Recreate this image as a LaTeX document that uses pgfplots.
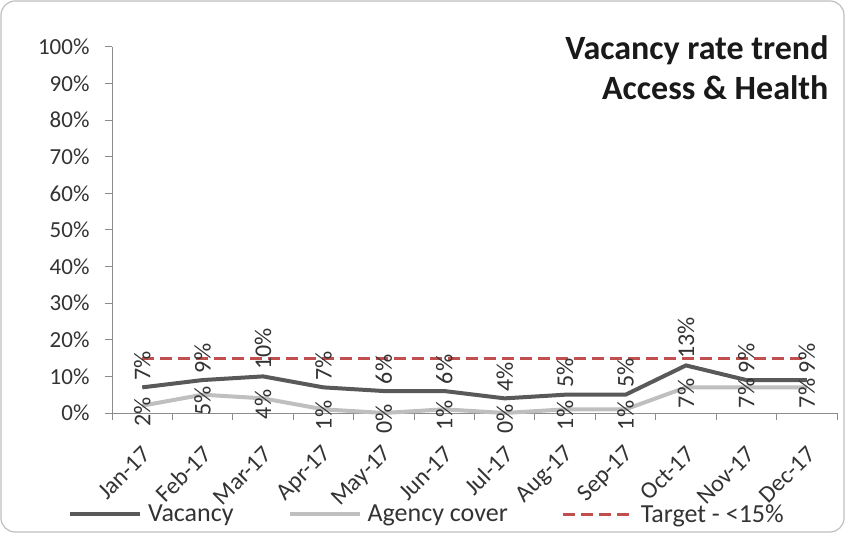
\documentclass[border=0pt]{standalone}
\usepackage{pgfplots}
\pgfplotsset{compat=1.18}
\usepackage{fontspec}
\setmainfont{Carlito}
\definecolor{vac}{HTML}{595959}
\definecolor{agc}{HTML}{BFBFBF}
\definecolor{tgt}{HTML}{C0504D}
\definecolor{axc}{HTML}{8C8C8C}
\definecolor{txt}{HTML}{333333}
\begin{document}
\begin{tikzpicture}
\useasboundingbox (0,0) rectangle (845bp,533bp);
\draw[color=black!25, line width=1.2bp, rounded corners=14bp] (1bp,1bp) rectangle (844bp,532bp);
\begin{axis}[
  at={(112bp,120bp)}, anchor=south west,
  scale only axis, width=725bp, height=366bp,
  xmin=-0.5, xmax=11.5, ymin=0, ymax=100,
  axis lines*=left,
  axis line style={axc, line width=1bp},
  tick style={axc, line width=1bp},
  tick align=outside,
  xtick={0,...,11},
  xticklabels={Jan-17,Feb-17,Mar-17,Apr-17,May-17,Jun-17,Jul-17,Aug-17,Sep-17,Oct-17,Nov-17,Dec-17},
  major x tick style={draw=none},
  minor xtick={-0.5,0.5,...,11.5},
  minor tick length=7bp,
  major tick length=7bp,
  ytick={0,10,...,100},
  yticklabel={\pgfmathprintnumber{\tick}\%},
  /pgf/number format/assume math mode=true,
  ticklabel style={font=\fontsize{23bp}{27bp}\selectfont, text=txt},
  xticklabel style={font=\fontsize{24bp}{28bp}\selectfont, yshift=-28bp, xshift=7bp, rotate=45, anchor=east},
  yticklabel style={xshift=-12bp},
  clip=false,
  legend columns=3,
  legend style={at={(-0.0607,-0.276)}, anchor=west, draw=none, fill=none,
    inner sep=0pt, font=\fontsize{26bp}{30bp}\selectfont, text=txt,
    nodes={inner xsep=6bp},
    /tikz/every even column/.append style={column sep=48bp}},
  legend image code/.code={\draw[#1] (0bp,0bp) -- (70bp,0bp);},
]
\addplot[tgt, line width=3bp, dash pattern=on 12bp off 6bp, forget plot]
  coordinates {(0,15) (1,15) (2,15) (3,15) (4,15) (5,15) (6,15) (7,15) (8,15) (9,15) (10,15) (11,15)};
\addplot[vac, line width=4bp,
  nodes near coords={\pgfmathprintnumber{\pgfplotspointmeta}\%},
  every node near coord/.append style={rotate=90, anchor=west, inner xsep=5bp,
    font=\fontsize{24bp}{28bp}\selectfont, text=txt}]
  coordinates {(0,7) (1,9) (2,10) (3,7) (4,6) (5,6) (6,4) (7,5) (8,5) (9,13) (10,9) (11,9)};
\addlegendentry{Vacancy}
\addplot[agc, line width=4bp,
  nodes near coords={\pgfmathprintnumber{\pgfplotspointmeta}\%},
  every node near coord/.append style={yshift=-6bp, rotate=90, anchor=center,
    font=\fontsize{24bp}{28bp}\selectfont, text=txt}]
  coordinates {(0,2) (1,5) (2,4) (3,1) (4,0) (5,1) (6,0) (7,1) (8,1) (9,7) (10,7) (11,7)};
\addlegendentry{Agency cover}
\addlegendimage{tgt, line width=3bp, dash pattern=on 12bp off 6bp}
\addlegendentry{Target - <15\%}
\end{axis}
\node[anchor=base east, font=\bfseries\fontsize{34bp}{40bp}\selectfont, text=black!90] at (832bp,473bp) {Vacancy rate trend};
\node[anchor=base east, font=\bfseries\fontsize{34bp}{40bp}\selectfont, text=black!90] at (832bp,433bp) {Access \& Health};
\end{tikzpicture}
\end{document}
